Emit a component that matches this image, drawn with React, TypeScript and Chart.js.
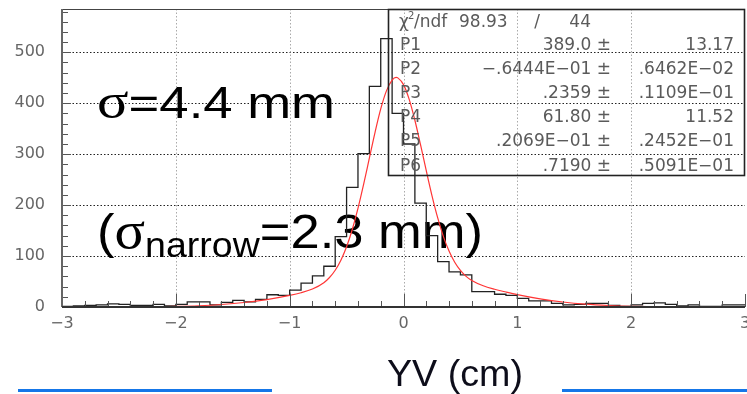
import React, { useEffect, useRef } from "react";
import { Chart, registerables } from "chart.js";
Chart.register(...registerables);

// ---- data ----
const binEdges = [
  -3.0, -2.9, -2.8, -2.7, -2.6, -2.5, -2.4, -2.3, -2.2, -2.1,
  -2.0, -1.9, -1.8, -1.7, -1.6, -1.5, -1.4, -1.3, -1.2, -1.1,
  -1.0, -0.9, -0.8, -0.7, -0.6, -0.5, -0.4, -0.3, -0.2, -0.1,
  0.0, 0.1, 0.2, 0.3, 0.4, 0.5, 0.6, 0.7, 0.8, 0.9,
  1.0, 1.1, 1.2, 1.3, 1.4, 1.5, 1.6, 1.7, 1.8, 1.9,
  2.0, 2.1, 2.2, 2.3, 2.4, 2.5, 2.6, 2.7, 2.8, 2.9, 3.0,
];
const counts = [
  3, 1, 2, 3, 4, 6, 5, 3, 3, 5,
  2, 5, 10, 10, 4, 9, 13, 10, 15, 24,
  23, 33, 47, 61, 80, 138, 235, 301, 433, 527,
  380, 320, 204, 140, 89, 69, 63, 30, 30, 25,
  23, 17, 12, 12, 7, 4, 5, 7, 7, 3,
  1, 4, 7, 8, 5, 2, 4, 1, 1, 4,
];
const fitX = [
  -2.5, -2.2, -2.0, -1.8, -1.6, -1.4, -1.2, -1.0, -0.9, -0.8, -0.7, -0.65, -0.6, -0.55,
  -0.5, -0.45, -0.4, -0.35, -0.3, -0.25, -0.2, -0.15, -0.1, -0.065, -0.05, 0.0, 0.05,
  0.1, 0.15, 0.2, 0.25, 0.3, 0.35, 0.4, 0.45, 0.5, 0.55, 0.6, 0.7, 0.8, 0.9, 1.0,
  1.2, 1.4, 1.6, 1.8, 2.0, 2.3, 2.6,
];
const fitY = [
  0.1, 0.5, 1.2, 2.5, 4.9, 8.8, 14.6, 22.7, 27.9, 35.2, 47.7, 57.9, 72.2, 91.9,
  118.2, 152.2, 193.5, 241.0, 292.2, 343.0, 388.8, 424.3, 445.5, 450.8, 449.8, 436.6, 407.6,
  366.6, 318.2, 267.5, 218.7, 175.3, 138.7, 109.8, 87.8, 71.7, 60.2, 52.0, 41.6, 34.8, 29.4, 24.4,
  16.1, 9.8, 5.5, 2.9, 1.4, 0.4, 0.1,
];
const xTicks = [-3, -2, -1, 0, 1, 2, 3];
const yTicks = [0, 100, 200, 300, 400, 500];
const xGridValues = [-2, -1, 0, 1, 2];
const yGridValues = [100, 200, 300, 400, 500];
const yMax = 585;

const chiLabel = "/ndf";
const chiValue = "98.93";
const ndfValue = "44";
const statNames = ["P1", "P2", "P3", "P4", "P5", "P6"];
const statValues = ["389.0 \u00b1", "\u2212.6444E\u221201 \u00b1", ".2359 \u00b1", "61.80 \u00b1", ".2069E\u221201 \u00b1", ".7190 \u00b1"];
const statErrors = ["13.17", ".6462E\u221202", ".1109E\u221201", "11.52", ".2452E\u221201", ".5091E\u221201"];

const note1 = [
  { text: "\u03c3", font: '50px "Liberation Serif"', dy: 0 },
  { text: "=4.4 mm", font: '45px "Liberation Sans"', dy: 0 },
];
const note2 = [
  { text: "(", font: '49px "Liberation Sans"', dy: 0 },
  { text: "\u03c3", font: '53px "Liberation Serif"', dy: 0 },
  { text: "narrow", font: '35px "Liberation Sans"', dy: 9 },
  { text: "=2.3 mm)", font: '49px "Liberation Sans"', dy: 0 },
];
const xTitle = "YV (cm)";

type Seg = { text: string; font: string; dy: number };

function drawRich(ctx: CanvasRenderingContext2D, segs: Seg[], x: number, baseline: number, targetW: number, color: string) {
  let w = 0;
  for (const s of segs) {
    ctx.font = s.font;
    w += ctx.measureText(s.text).width;
  }
  const sx = targetW / w;
  ctx.save();
  ctx.translate(x, baseline);
  ctx.scale(sx, 1);
  ctx.fillStyle = color;
  ctx.textBaseline = "alphabetic";
  ctx.textAlign = "left";
  let cx = 0;
  for (const s of segs) {
    ctx.font = s.font;
    ctx.fillText(s.text, cx, s.dy);
    cx += ctx.measureText(s.text).width;
  }
  ctx.restore();
}

const overlay = {
  id: "overlay",
  beforeDatasetsDraw(chart: any) {
    const { ctx, chartArea: a, scales } = chart;
    const xs = scales.x, ys = scales.y;
    ctx.save();
    ctx.lineWidth = 1;
    ctx.setLineDash([1.5, 2]);
    ctx.strokeStyle = "#222";
    for (const v of yGridValues) {
      const py = Math.round(ys.getPixelForValue(v)) + 0.5;
      ctx.beginPath();
      ctx.moveTo(a.left, py);
      ctx.lineTo(a.right, py);
      ctx.stroke();
    }
    ctx.strokeStyle = "#aaa";
    for (const v of xGridValues) {
      const px = Math.round(xs.getPixelForValue(v)) + 0.5;
      ctx.beginPath();
      ctx.moveTo(px, a.top);
      ctx.lineTo(px, a.bottom);
      ctx.stroke();
    }
    ctx.setLineDash([]);
    drawRich(ctx, note1, 97, 118, 238, "#000");
    drawRich(ctx, note2, 97, 248, 386, "#000");
    ctx.restore();
  },
  afterDatasetsDraw(chart: any) {
    const { ctx, chartArea: a, scales } = chart;
    const xs = scales.x, ys = scales.y;
    ctx.save();
    // frame top
    ctx.strokeStyle = "#444";
    ctx.lineWidth = 1;
    ctx.beginPath();
    ctx.moveTo(a.left, a.top + 0.5);
    ctx.lineTo(a.right, a.top + 0.5);
    ctx.stroke();
    // y ticks (inward)
    ctx.strokeStyle = "#555";
    for (let v = 0; v <= yMax; v += 20) {
      const py = Math.round(ys.getPixelForValue(v)) + 0.5;
      const len = v % 100 === 0 ? 9 : 6;
      ctx.beginPath();
      ctx.moveTo(a.left, py);
      ctx.lineTo(a.left + len, py);
      ctx.stroke();
    }
    // x ticks (inward)
    for (let i = 0; i <= 30; i++) {
      const v = -3 + i * 0.2;
      const px = Math.round(xs.getPixelForValue(v)) + 0.5;
      const len = i % 5 === 0 ? 13 : 6;
      ctx.beginPath();
      ctx.moveTo(px, a.bottom);
      ctx.lineTo(px, a.bottom - len);
      ctx.stroke();
    }
    // axes
    ctx.lineWidth = 2;
    ctx.strokeStyle = "#666";
    ctx.beginPath();
    ctx.moveTo(a.left, a.top);
    ctx.lineTo(a.left, a.bottom);
    ctx.stroke();
    ctx.strokeStyle = "#333";
    ctx.beginPath();
    ctx.moveTo(a.left, a.bottom);
    ctx.lineTo(a.right, a.bottom);
    ctx.stroke();

    // stats box
    const bx = 388, by = 9, bw = a.right - 388, bh = 166;
    ctx.lineWidth = 1.6;
    ctx.strokeStyle = "#222";
    ctx.strokeRect(bx + 0.5, by + 0.5, bw - 1, bh);
    ctx.fillStyle = "#5a5a5a";
    ctx.textBaseline = "alphabetic";
    ctx.font = '17px "DejaVu Sans"';
    ctx.textAlign = "left";
    ctx.fillText("\u03c7", 399, 27);
    ctx.font = '10px "DejaVu Sans"';
    ctx.fillText("2", 408, 19);
    ctx.font = '17px "DejaVu Sans"';
    ctx.fillText(chiLabel, 414, 27);
    ctx.fillText(chiValue, 459, 27);
    ctx.textAlign = "center";
    ctx.fillText("/", 537, 27);
    ctx.textAlign = "right";
    ctx.fillText(ndfValue, 591, 27);
    for (let i = 0; i < statNames.length; i++) {
      const yb = 50 + i * 24.1;
      ctx.textAlign = "left";
      ctx.fillText(statNames[i], 400, yb);
      ctx.textAlign = "right";
      ctx.fillText(statValues[i], 611, yb);
      ctx.fillText(statErrors[i], 734, yb);
    }

    // x title
    ctx.textAlign = "left";
    drawRich(ctx, [{ text: xTitle, font: '36px "Liberation Sans"', dy: 0 }], 387, 386, 136, "#0d0d1a");

    // blue decorative lines
    ctx.fillStyle = "#1576e8";
    ctx.fillRect(18, 389, 254, 3);
    ctx.fillRect(562, 389, 185, 3);
    ctx.restore();
  },
};

const minusFmt = (v: number) => (v < 0 ? "\u2212" + Math.abs(v) : String(v));

export default function App() {
  const ref = useRef<HTMLCanvasElement>(null);
  useEffect(() => {
    if (!ref.current) return;
    const histPoints = counts.map((c, i) => ({ x: binEdges[i], y: c }));
    histPoints.push({ x: binEdges[binEdges.length - 1], y: counts[counts.length - 1] });
    const fitPoints = fitX.map((x, i) => ({ x, y: fitY[i] }));
    const chart = new Chart(ref.current, {
      type: "line",
      data: {
        datasets: [
          {
            data: histPoints,
            stepped: "after",
            borderColor: "#222",
            borderWidth: 1.3,
            pointRadius: 0,
            fill: false,
            order: 2,
          } as any,
          {
            data: fitPoints,
            borderColor: "#ff3535",
            borderWidth: 1.2,
            pointRadius: 0,
            fill: false,
            cubicInterpolationMode: "monotone",
            order: 1,
          } as any,
        ],
      },
      options: {
        responsive: false,
        animation: false,
        devicePixelRatio: 1,
        layout: { padding: { left: 0, right: 2, top: 9, bottom: 0 } },
        plugins: { legend: { display: false }, tooltip: { enabled: false }, title: { display: false } },
        scales: {
          x: {
            type: "linear",
            min: -3,
            max: 3,
            afterFit: (s: any) => {
              s.height = 87;
              s.paddingLeft = 0;
              s.paddingRight = 0;
            },
            afterBuildTicks: (s: any) => {
              s.ticks = xTicks.map((v) => ({ value: v }));
            },
            ticks: {
              color: "#666",
              font: { family: "DejaVu Sans", size: 16 },
              padding: 7,
              maxRotation: 0,
              autoSkip: false,
              callback: (v: any) => minusFmt(Number(v)),
            },
            grid: { display: false, drawTicks: false },
            border: { display: false },
          },
          y: {
            type: "linear",
            min: 0,
            max: yMax,
            afterFit: (s: any) => {
              s.width = 62;
              s.paddingTop = 0;
              s.paddingBottom = 0;
            },
            afterBuildTicks: (s: any) => {
              s.ticks = yTicks.map((v) => ({ value: v }));
            },
            ticks: {
              color: "#666",
              font: { family: "DejaVu Sans", size: 16 },
              padding: 17,
              autoSkip: false,
            },
            grid: { display: false, drawTicks: false },
            border: { display: false },
          },
        },
      } as any,
      plugins: [overlay],
    });
    return () => chart.destroy();
  }, []);
  return (
    <canvas
      ref={ref}
      width={747}
      height={394}
      style={{ position: "fixed", left: 0, top: 0, width: 747, height: 394, background: "#fff" }}
    />
  );
}
